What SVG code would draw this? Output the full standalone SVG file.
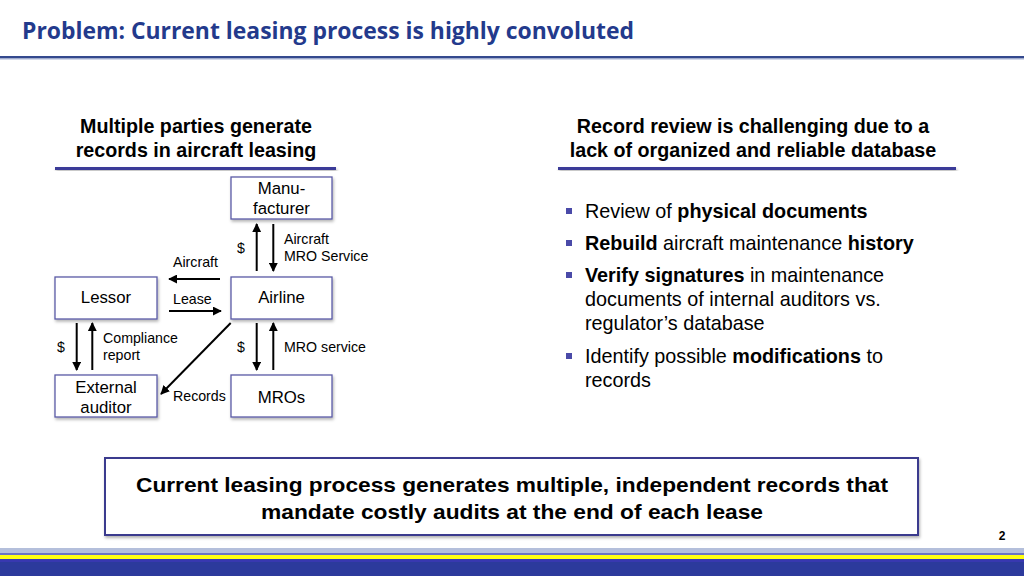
<svg xmlns="http://www.w3.org/2000/svg" width="1024" height="576" viewBox="0 0 1024 576">
<style>
.t{font-family:"Liberation Sans",Arial,sans-serif;fill:#000}
.h{font-size:19.7px;font-weight:bold;text-anchor:middle}
.n{font-size:16.8px;text-anchor:middle}
.s{font-size:14.2px}
.b{font-size:19.8px}
.box{fill:#fff;stroke:#5b5ba6;stroke-width:1.3}
.c{stroke:#000;stroke-width:2;fill:none;marker-end:url(#ah)}
</style>
<defs>
<marker id="ah" viewBox="0 0 10 10" refX="9" refY="5" markerWidth="4.5" markerHeight="4.5" orient="auto" markerUnits="strokeWidth">
<path d="M0,0 L10,5 L0,10 z" fill="#000"/>
</marker>
<filter id="sh" x="-10%" y="-10%" width="120%" height="130%">
<feDropShadow dx="1" dy="2" stdDeviation="1.5" flood-color="#000" flood-opacity="0.3"/>
</filter>
</defs>
<rect width="1024" height="576" fill="#fff"/>
<text x="22" y="39" font-family="'Open Sans','Liberation Sans',sans-serif" font-size="24" font-weight="bold" fill="#233a8c" textLength="612" lengthAdjust="spacingAndGlyphs">Problem: Current leasing process is highly convoluted</text>
<rect x="0" y="56" width="1024" height="2.5" fill="#34498e"/>
<rect x="0" y="58.5" width="1024" height="1" fill="#a8b4d4"/>

<g id="heading-left">
<text class="t h" x="196" y="133">Multiple parties generate</text>
<text class="t h" x="196" y="157">records in aircraft leasing</text>
<rect x="55" y="167" width="281" height="3" fill="#3a3a98" filter="url(#sh)"/>
</g>
<g id="heading-right">
<text class="t h" x="753" y="133">Record review is challenging due to a</text>
<text class="t h" x="753" y="157">lack of organized and reliable database</text>
<rect x="558" y="167" width="398" height="3" fill="#3a3a98" filter="url(#sh)"/>
</g>

<g id="connectors">
<line class="c" x1="256.7" y1="271" x2="256.7" y2="224"/>
<line class="c" x1="273.3" y1="224" x2="273.3" y2="271"/>
<line class="c" x1="220" y1="279" x2="169" y2="279"/>
<line class="c" x1="169" y1="311" x2="221" y2="311"/>
<line class="c" x1="76.7" y1="323" x2="76.7" y2="370"/>
<line class="c" x1="92.3" y1="370" x2="92.3" y2="323"/>
<line class="c" x1="256.7" y1="323" x2="256.7" y2="370"/>
<line class="c" x1="273.3" y1="370" x2="273.3" y2="323"/>
<line class="c" x1="230.7" y1="323" x2="161" y2="394"/>
<text class="t s" x="241" y="253" text-anchor="middle">$</text>
<text class="t s" x="284" y="244">Aircraft</text>
<text class="t s" x="284" y="261">MRO Service</text>
<text class="t s" x="173" y="267">Aircraft</text>
<text class="t s" x="173" y="304">Lease</text>
<text class="t s" x="61" y="352" text-anchor="middle">$</text>
<text class="t s" x="103" y="343">Compliance</text>
<text class="t s" x="103" y="360">report</text>
<text class="t s" x="241" y="352" text-anchor="middle">$</text>
<text class="t s" x="284" y="352">MRO service</text>
<text class="t s" x="173" y="401">Records</text>
</g>

<g id="manufacturer">
<rect class="box" x="231" y="177" width="101" height="42" filter="url(#sh)"/>
<text class="t n" x="281.5" y="194">Manu-</text>
<text class="t n" x="281.5" y="214">facturer</text>
</g>
<g id="airline">
<rect class="box" x="231" y="277" width="101" height="42" filter="url(#sh)"/>
<text class="t n" x="281.5" y="303">Airline</text>
</g>
<g id="lessor">
<rect class="box" x="55" y="277" width="102" height="42" filter="url(#sh)"/>
<text class="t n" x="106" y="303">Lessor</text>
</g>
<g id="external-auditor">
<rect class="box" x="55" y="375" width="102" height="42" filter="url(#sh)"/>
<text class="t n" x="106" y="393">External</text>
<text class="t n" x="106" y="413">auditor</text>
</g>
<g id="mros">
<rect class="box" x="231" y="375" width="101" height="42" filter="url(#sh)"/>
<text class="t n" x="281.5" y="403">MROs</text>
</g>

<g id="bullets">
<rect x="566" y="208" width="6" height="6" fill="#4a4aa8"/>
<rect x="566" y="240" width="6" height="6" fill="#4a4aa8"/>
<rect x="566" y="272" width="6" height="6" fill="#4a4aa8"/>
<rect x="566" y="353" width="6" height="6" fill="#4a4aa8"/>
<text class="t b" x="585" y="218">Review of <tspan font-weight="bold">physical documents</tspan></text>
<text class="t b" x="585" y="250"><tspan font-weight="bold">Rebuild</tspan> aircraft maintenance <tspan font-weight="bold">history</tspan></text>
<text class="t b" x="585" y="282"><tspan font-weight="bold">Verify signatures</tspan> in maintenance</text>
<text class="t b" x="585" y="306">documents of internal auditors vs.</text>
<text class="t b" x="585" y="330">regulator’s database</text>
<text class="t b" x="585" y="363">Identify possible <tspan font-weight="bold">modifications</tspan> to</text>
<text class="t b" x="585" y="387">records</text>
</g>

<g id="conclusion">
<rect x="105" y="458" width="813" height="77" fill="#fff" stroke="#3a3a8e" stroke-width="2" filter="url(#sh)"/>
<text class="t" x="512" y="492" font-size="21" font-weight="bold" text-anchor="middle" textLength="752" lengthAdjust="spacingAndGlyphs">Current leasing process generates multiple, independent records that</text>
<text class="t" x="512" y="519" font-size="21" font-weight="bold" text-anchor="middle" textLength="502" lengthAdjust="spacingAndGlyphs">mandate costly audits at the end of each lease</text>
</g>
<text class="t" x="1002" y="540" font-size="12" font-weight="bold" text-anchor="middle">2</text>

<rect x="0" y="548" width="1024" height="5" fill="#b4bfdb"/>
<rect x="0" y="553" width="1024" height="2" fill="#6a72c4"/>
<rect x="0" y="555" width="1024" height="4" fill="#ffff10"/>
<rect x="0" y="559" width="1024" height="3" fill="#3838b0"/>
<rect x="0" y="562" width="1024" height="14" fill="#2c3a9c"/>
</svg>
